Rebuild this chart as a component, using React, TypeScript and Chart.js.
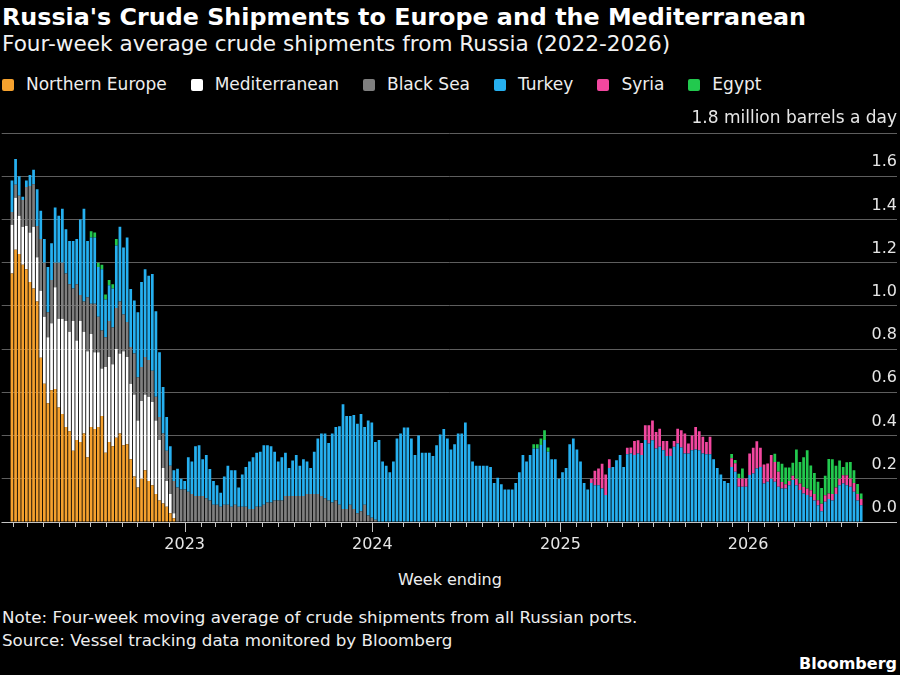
import { useEffect, useRef } from 'react';
import { Chart, registerables } from 'chart.js';

Chart.register(...registerables);

// ---------- data (weekly, four-week average, million barrels a day) ----------
const FIRST_WEEK_ENDING = '2022-01-30';
const WEEK_COUNT = 237;
const zeros = (n: number): number[] => new Array(n).fill(0);

const northernEurope = [
  1.15, 1.26, 1.24, 1.19, 1.17, 1.11, 1.08, 1.02, 0.76, 0.64,
  0.55, 0.61, 0.615, 0.53, 0.5, 0.44, 0.42, 0.33, 0.38, 0.37,
  0.41, 0.3, 0.44, 0.43, 0.44, 0.49, 0.32, 0.37, 0.35, 0.39,
  0.41, 0.355, 0.36, 0.29, 0.21, 0.16, 0.2, 0.24, 0.19, 0.17,
  0.13, 0.1, 0.086, 0.07, 0.04, 0.017, 0,
  ...zeros(190),
];

const mediterranean = [
  0.225, 0.24, 0.177, 0.176, 0.2, 0.23, 0.286, 0.205, 0.31, 0.31,
  0.305, 0.31, 0.471, 0.41, 0.44, 0.49, 0.46, 0.6, 0.46, 0.56,
  0.47, 0.49, 0.43, 0.356, 0.346, 0.22, 0.397, 0.393, 0.38, 0.41,
  0.37, 0.435, 0.403, 0.35, 0.38, 0.31, 0.36, 0.35, 0.39, 0.385,
  0.34, 0.28, 0.164, 0.12, 0.09, 0.023, 0,
  ...zeros(190),
];

const blackSea = [
  0.06, 0.06, 0.093, 0.124, 0.18, 0.215, 0.197, 0.145, 0.24, 0.25,
  0.115, 0.2, 0.114, 0.26, 0.26, 0.22, 0.22, 0.15, 0.26, 0.12,
  0.14, 0.25, 0.14, 0.224, 0.164, 0.176, 0.138, 0.167, 0.17, 0.19,
  0.24, 0.17, 0.162, 0.17, 0.19, 0.2, 0.157, 0.173, 0.17, 0.145,
  0.11, 0.106, 0.16, 0.14, 0.13, 0.15, 0.16,
  0.15, 0.15, 0.14, 0.13, 0.12, 0.12, 0.12, 0.11, 0.1, 0.08,
  0.08, 0.07, 0.08, 0.08, 0.07, 0.08, 0.07, 0.07, 0.07, 0.06,
  0.06, 0.07, 0.07, 0.08, 0.09, 0.09, 0.1, 0.1, 0.1, 0.12,
  0.12, 0.12, 0.12, 0.12, 0.12, 0.13, 0.13, 0.13, 0.13, 0.12,
  0.11, 0.1, 0.09, 0.1, 0.08, 0.06, 0.06, 0.08, 0.06, 0.04,
  0.05, 0.08, 0.03, 0.02, 0.01,
  ...zeros(135),
];

const turkey = [
  0.145, 0.12, 0.09, 0.015, 0.03, 0.051, 0.067, 0.17, 0.13, 0.11,
  0.21, 0.17, 0.255, 0.217, 0.25, 0.205, 0.2, 0.22, 0.21, 0.35,
  0.43, 0.26, 0.307, 0.307, 0.23, 0.284, 0.175, 0.165, 0.18, 0.29,
  0.346, 0.31, 0.392, 0.268, 0.245, 0.3, 0.393, 0.407, 0.39, 0.448,
  0.395, 0.3, 0.215, 0.156, 0.09, 0.05, 0.086,
  0.05, 0.04, 0.16, 0.15, 0.23, 0.235, 0.17, 0.2, 0.145, 0.11,
  0.09, 0.065, 0.13, 0.18, 0.17, 0.16, 0.09, 0.15, 0.185, 0.22,
  0.24, 0.25, 0.255, 0.275, 0.265, 0.26, 0.225, 0.18, 0.2, 0.2,
  0.13, 0.165, 0.19, 0.14, 0.17, 0.15, 0.12, 0.195, 0.256, 0.29,
  0.3, 0.266, 0.32, 0.34, 0.363, 0.485, 0.43, 0.41, 0.435, 0.415,
  0.45, 0.36, 0.44, 0.44, 0.36,
  0.38, 0.28, 0.26, 0.23, 0.28, 0.386, 0.41, 0.437, 0.437, 0.386,
  0.31, 0.4, 0.32, 0.32, 0.32, 0.305, 0.355, 0.405, 0.43, 0.386,
  0.335, 0.36, 0.41, 0.41, 0.46, 0.36, 0.28, 0.26, 0.26, 0.26,
  0.26, 0.255, 0.18, 0.205, 0.175, 0.15, 0.15, 0.15, 0.18, 0.23,
  0.31, 0.28, 0.31, 0.34, 0.34, 0.356, 0.38, 0.325, 0.29, 0.29,
  0.2, 0.23, 0.25, 0.36, 0.386, 0.335, 0.28, 0.18, 0.15,
  0.18, 0.17, 0.17, 0.155, 0.125, 0.25, 0.255, 0.286, 0.31, 0.255,
  0.314, 0.317, 0.31, 0.317, 0.31, 0.38, 0.363, 0.378, 0.34, 0.348,
  0.332, 0.305, 0.305, 0.348, 0.363, 0.345, 0.317, 0.317, 0.332, 0.335,
  0.332, 0.317, 0.314, 0.314, 0.29, 0.25, 0.22, 0.19, 0.18,
  0.255, 0.232, 0.163, 0.163, 0.163, 0.217, 0.225, 0.248, 0.255, 0.178,
  0.186, 0.2, 0.186, 0.163, 0.155, 0.155, 0.17, 0.194, 0.17, 0.148,
  0.132, 0.125, 0.117, 0.1, 0.078, 0.05, 0.094, 0.106, 0.1, 0.13,
  0.17, 0.178, 0.17, 0.163, 0.14, 0.1, 0.078,
];

const syria = [
  ...zeros(161),
  0.02, 0.067, 0.078, 0.115, 0.095, 0.04, 0, 0, 0, 0,
  0.03, 0.028, 0.065, 0.061, 0.056, 0.068, 0.085, 0.092, 0.077, 0.084,
  0.043, 0.07, 0.035, 0.027, 0.069, 0.08, 0.093, 0.046, 0.068, 0.105,
  0.088, 0.077, 0.056, 0.08,
  ...zeros(5),
  0.04, 0.04, 0.04, 0.038, 0.038, 0.1, 0.118, 0.126, 0.088, 0.088,
  0.085, 0.11, 0.092, 0.07, 0.03, 0.02, 0.02, 0.02, 0.03, 0.03,
  0.03, 0.03, 0.03, 0.03, 0.023, 0.035, 0.03, 0.026, 0.03, 0.03,
  0.03, 0.038, 0.046, 0.038, 0.04, 0.03, 0.028,
];

const egypt = [
  ...zeros(22),
  0.028, 0.023, 0.02, 0.02, 0.023, 0.025, 0.02, 0.03,
  ...zeros(115),
  0.02, 0.02, 0.03, 0.045, 0.02,
  ...zeros(50),
  0.02, 0.015, 0.02, 0.046,
  ...zeros(8),
  0.038, 0.046, 0.085, 0.077, 0.062, 0.06, 0.135, 0.1, 0.138, 0.177,
  0.115, 0.097, 0.085, 0.072, 0.09, 0.16, 0.16, 0.1, 0.085, 0.038,
  0.06, 0.077, 0.06, 0.046, 0.026,
];

const seriesNames = ['Northern Europe', 'Mediterranean', 'Black Sea', 'Turkey', 'Syria', 'Egypt'];
const seriesColors = ['#f5a12e', '#ffffff', '#7f7f7f', '#26b0f0', '#f2479f', '#22c94e'];
const seriesValues = [northernEurope, mediterranean, blackSea, turkey, syria, egypt];

const Y_MAX = 1.8;
const Y_STEP = 0.2;
const Y_UNIT = 'million barrels a day';

// ---------- derived categories ----------
const DAY = 86400000;
const firstDay = Date.parse(FIRST_WEEK_ENDING) / DAY;
const weekEnding: number[] = Array.from({ length: WEEK_COUNT }, (_, i) => firstDay + 7 * i);
const lastDay = weekEnding[weekEnding.length - 1];
const monthTicks: number[] = [];
for (let y = 2022; y <= 2026; y++) {
  for (let m = 0; m < 12; m++) {
    const d = Date.UTC(y, m, 1) / DAY;
    if (d >= firstDay && d <= lastDay) monthTicks.push(d);
  }
}
const isJanuary = (d: number) => new Date(d * DAY).getUTCMonth() === 0;
const isTop = (v: number) => Math.abs(v - Y_MAX) < 1e-9;

const FONT = '"DejaVu Sans", sans-serif';

const tickMarks = {
  id: 'tickMarks',
  afterDatasetsDraw(chart: any) {
    const { ctx, chartArea } = chart;
    const xs = chart.scales.x;
    ctx.save();
    ctx.strokeStyle = '#c4c4c4';
    ctx.lineWidth = 1;
    ctx.beginPath();
    ctx.moveTo(chartArea.left, chartArea.bottom + 0.5);
    ctx.lineTo(chartArea.right, chartArea.bottom + 0.5);
    ctx.stroke();
    xs.ticks.forEach((t: any) => {
      const px = Math.round(xs.getPixelForValue(t.value)) + 0.5;
      ctx.beginPath();
      ctx.moveTo(px, chartArea.bottom + 1);
      ctx.lineTo(px, chartArea.bottom + (isJanuary(t.value) ? 10 : 5));
      ctx.stroke();
    });
    ctx.restore();
  },
};

function StackedChart() {
  const ref = useRef<HTMLCanvasElement | null>(null);
  useEffect(() => {
    if (!ref.current) return;
    const chart = new Chart(ref.current, {
      type: 'bar',
      data: {
        datasets: seriesNames.map((name, s) => ({
          label: name,
          data: weekEnding.map((d, i) => ({ x: d, y: seriesValues[s][i] ?? 0 })),
          backgroundColor: seriesColors[s],
          borderWidth: 0,
          categoryPercentage: 1,
          barPercentage: 0.76,
        })),
      },
      options: {
        animation: false,
        responsive: true,
        maintainAspectRatio: false,
        events: [],
        layout: { padding: { top: 33, right: 3, left: 0, bottom: 0 } },
        plugins: {
          legend: { display: false },
          tooltip: { enabled: false },
          title: { display: false },
        },
        scales: {
          x: {
            type: 'linear',
            stacked: true,
            offset: false,
            min: firstDay - 20,
            max: firstDay - 20 + 1741.7,
            grid: { display: false, drawTicks: false, offset: false },
            border: { display: false },
            afterBuildTicks: (scale: any) => {
              scale.ticks = monthTicks.map((v) => ({ value: v }));
            },
            afterFit: (scale: any) => {
              scale.height = 38;
            },
            ticks: {
              autoSkip: false,
              maxRotation: 0,
              minRotation: 0,
              padding: 13,
              color: '#e6e6e6',
              font: { family: FONT, size: 16 },
              callback: (v: any) => (isJanuary(Number(v)) ? String(new Date(Number(v) * DAY).getUTCFullYear()) : ''),
            },
          },
          y: {
            type: 'linear',
            position: 'right',
            stacked: true,
            min: 0,
            max: Y_MAX,
            grid: {
              drawTicks: false,
              lineWidth: 1,
              color: (c: any) => (c.tick && Math.abs(c.tick.value) < 1e-9 ? '#c4c4c4' : '#5e5e5e'),
            },
            border: { display: false },
            ticks: {
              stepSize: Y_STEP,
              mirror: true,
              padding: 0,
              labelOffset: -14,
              color: '#e6e6e6',
              font: (c: any) => ({ family: FONT, size: c.tick && isTop(c.tick.value) ? 17 : 16 }),
              callback: (v: any) => (isTop(Number(v)) ? `${Y_MAX.toFixed(1)} ${Y_UNIT}` : Number(v).toFixed(1)),
            },
          },
        },
      },
      plugins: [tickMarks],
    } as any);
    return () => chart.destroy();
  }, []);
  return <canvas ref={ref} />;
}

export default function App() {
  const abs = (top: number, extra: any = {}) => ({
    position: 'absolute' as const,
    top,
    left: 2,
    whiteSpace: 'nowrap' as const,
    ...extra,
  });
  return (
    <div
      style={{
        position: 'absolute',
        left: 0,
        top: 0,
        width: 900,
        height: 675,
        background: '#000',
        overflow: 'hidden',
        fontFamily: FONT,
        color: '#ffffff',
      }}
    >
      <div style={abs(5, { fontSize: 23.8, lineHeight: '24px', fontWeight: 'bold' })}>
        Russia's Crude Shipments to Europe and the Mediterranean
      </div>
      <div style={abs(33, { fontSize: 21.6, lineHeight: '22px', color: '#f2f2f2' })}>
        Four-week average crude shipments from Russia (2022-2026)
      </div>
      <div
        style={abs(76, {
          display: 'flex',
          alignItems: 'center',
          fontSize: 17,
          lineHeight: '17px',
          color: '#eeeeee',
        })}
      >
        {seriesNames.map((n, i) => (
          <div key={n} style={{ display: 'flex', alignItems: 'center', marginRight: 24 }}>
            <span
              style={{
                display: 'inline-block',
                width: 12,
                height: 12,
                borderRadius: 2,
                background: seriesColors[i],
                marginRight: 12,
              }}
            />
            <span>{n}</span>
          </div>
        ))}
      </div>
      <div style={{ position: 'absolute', left: 0, top: 100, width: 900, height: 460 }}>
        <StackedChart />
      </div>
      <div
        style={{
          position: 'absolute',
          left: 0,
          top: 572,
          width: 900,
          textAlign: 'center',
          fontSize: 16,
          lineHeight: '16px',
          color: '#eeeeee',
        }}
      >
        Week ending
      </div>
      <div style={abs(609, { fontSize: 16.7, lineHeight: '17px', color: '#eeeeee' })}>
        Note: Four-week moving average of crude shipments from all Russian ports.
      </div>
      <div style={abs(632, { fontSize: 16.7, lineHeight: '17px', color: '#eeeeee' })}>
        Source: Vessel tracking data monitored by Bloomberg
      </div>
      <div
        style={{
          position: 'absolute',
          right: 3,
          top: 656,
          fontSize: 16,
          lineHeight: '16px',
          fontWeight: 'bold',
          color: '#ffffff',
        }}
      >
        Bloomberg
      </div>
    </div>
  );
}
